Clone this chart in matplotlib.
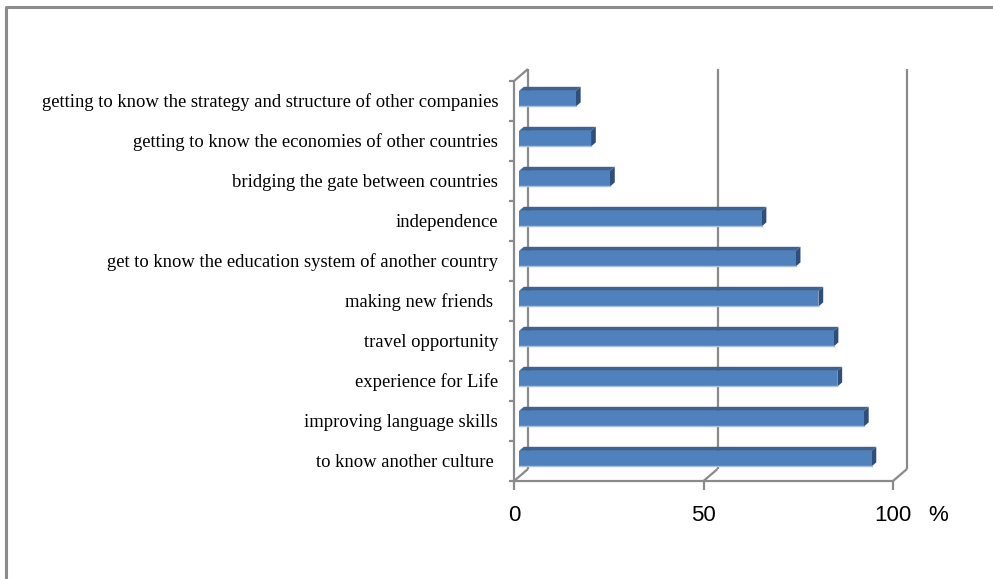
import matplotlib.pyplot as plt
from matplotlib.patches import Polygon

# data (bottom to top)
labels = ["to know another culture ", "improving language skills", "experience for Life",
          "travel opportunity", "making new friends ", "get to know the education system of another country",
          "independence", "bridging the gate between countries",
          "getting to know the economies of other countries",
          "getting to know the strategy and structure of other companies"]
values = [93, 91, 84, 83, 79, 73, 64, 24, 19, 15]
xticks = [0, 50, 100]

W, H = 993, 579
fig = plt.figure(figsize=(W / 100, H / 100), dpi=100)
fig.patches.append(plt.Line2D([6 / W, 6 / W, 1], [0, 1 - 7 / H, 1 - 7 / H], transform=fig.transFigure,
                              color='#8c8c8c', lw=2.2))
ax = fig.add_axes([514 / W, (H - 481) / H, (893 - 514) / W, 400 / H])
ax.set_xlim(0, 100)
ax.set_ylim(0, 10)
ax.axis('off')

DX, DY = 14 / 3.79, 12 / 40.0   # depth offset in data units
grey = '#8a8a8a'


def proj(x, y, z):
    return x + z * DX, y + z * DY


def line(pts, **kw):
    xs, ys = zip(*pts)
    ax.plot(xs, ys, color=grey, lw=1.6, clip_on=False, solid_capstyle='butt', zorder=1, **kw)


# walls and floor
line([proj(0, 0, 0), proj(0, 10, 0)])
line([proj(0, 0, 1), proj(0, 10, 1)])
line([proj(0, 10, 0), proj(0, 10, 1)])
line([proj(0, 0, 0), proj(100, 0, 0)])
for t in xticks:
    line([proj(t, 0, 0), proj(t, 0, 1)])
    if t > 0:
        line([proj(t, 0, 1), proj(t, 10, 1)])
    line([(t, 0), (t, -0.22)])
for i in range(11):
    line([(0, i), (-1.3, i)])

# bars
bh, bc = 0.39, 0.45
z0, z1 = 0.36, 0.70
front, top, side = '#4F81BD', '#3B6396', '#2E4F7B'
for i, v in enumerate(values):
    y0, y1 = i + bc - bh / 2, i + bc + bh / 2
    ax.add_patch(Polygon([proj(0, y1, z0), proj(v, y1, z0), proj(v, y1, z1), proj(0, y1, z1)],
                         closed=True, fc=top, ec='none', clip_on=False, zorder=3))
    ax.add_patch(Polygon([proj(v, y0, z0), proj(v, y0, z1), proj(v, y1, z1), proj(v, y1, z0)],
                         closed=True, fc=side, ec='none', clip_on=False, zorder=3))
    ax.add_patch(Polygon([proj(0, y0, z0), proj(v, y0, z0), proj(v, y1, z0), proj(0, y1, z0)],
                         closed=True, fc=front, ec='none', clip_on=False, zorder=3))
    ax.plot([proj(0, y0, z0)[0], proj(v, y0, z0)[0]], [proj(0, y0, z0)[1]] * 2,
            color='#A9C0DE', lw=1, clip_on=False, zorder=4)
    ax.text(-4.2, i + 0.47, labels[i], ha='right', va='center', fontsize=13.4,
            family='Liberation Serif', clip_on=False)

for t in xticks:
    ax.text(t, -0.6, str(t), ha='center', va='top', fontsize=16, family='Liberation Sans')
ax.text(112, -0.6, '%', ha='center', va='top', fontsize=16, family='Liberation Sans')

fig.savefig('out.png', dpi=100)
